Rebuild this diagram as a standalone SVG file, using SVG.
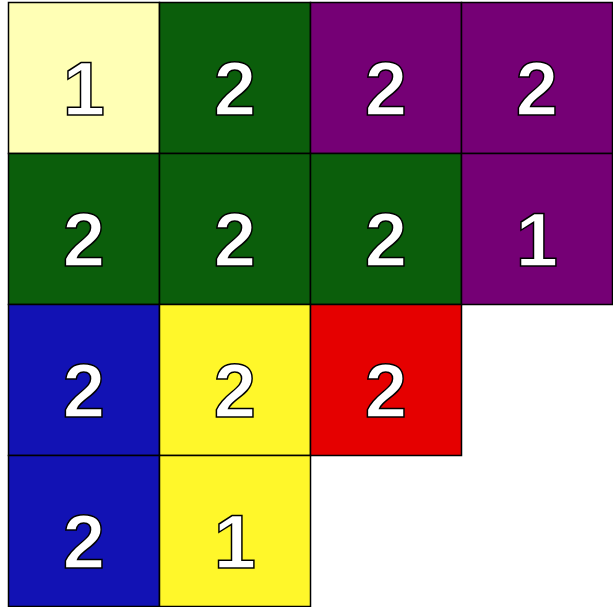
<svg xmlns="http://www.w3.org/2000/svg" width="613" height="607" viewBox="0 0 613 607">
<style>
rect{stroke:#000;stroke-width:1.5}
text{font-family:"Liberation Sans",Arial,sans-serif;font-weight:bold;font-size:76px;fill:#fff;stroke:#000;stroke-width:1.5;text-anchor:middle}
.ly{fill:#ffffb5}.g{fill:#0b5e0b}.p{fill:#750075}.b{fill:#1212b4}.y{fill:#fff72a}.r{fill:#e50000}
</style>
<rect x="0" y="0" width="613" height="607" fill="#fff" style="stroke:none"/>
<g id="r1c1"><rect class="ly" x="8.5" y="2.5" width="151" height="151"/><text x="84" y="115">1</text></g>
<g id="r1c2"><rect class="g" x="159.5" y="2.5" width="151" height="151"/><text x="235" y="115">2</text></g>
<g id="r1c3"><rect class="p" x="310.5" y="2.5" width="151" height="151"/><text x="386" y="115">2</text></g>
<g id="r1c4"><rect class="p" x="461.5" y="2.5" width="151" height="151"/><text x="537" y="115">2</text></g>
<g id="r2c1"><rect class="g" x="8.5" y="153.5" width="151" height="151"/><text x="84" y="266">2</text></g>
<g id="r2c2"><rect class="g" x="159.5" y="153.5" width="151" height="151"/><text x="235" y="266">2</text></g>
<g id="r2c3"><rect class="g" x="310.5" y="153.5" width="151" height="151"/><text x="386" y="266">2</text></g>
<g id="r2c4"><rect class="p" x="461.5" y="153.5" width="151" height="151"/><text x="537" y="266">1</text></g>
<g id="r3c1"><rect class="b" x="8.5" y="304.5" width="151" height="151"/><text x="84" y="417">2</text></g>
<g id="r3c2"><rect class="y" x="159.5" y="304.5" width="151" height="151"/><text x="235" y="417">2</text></g>
<g id="r3c3"><rect class="r" x="310.5" y="304.5" width="151" height="151"/><text x="386" y="417">2</text></g>
<g id="r4c1"><rect class="b" x="8.5" y="455.5" width="151" height="151"/><text x="84" y="568">2</text></g>
<g id="r4c2"><rect class="y" x="159.5" y="455.5" width="151" height="151"/><text x="235" y="568">1</text></g>
<g id="connectors"></g>
</svg>
